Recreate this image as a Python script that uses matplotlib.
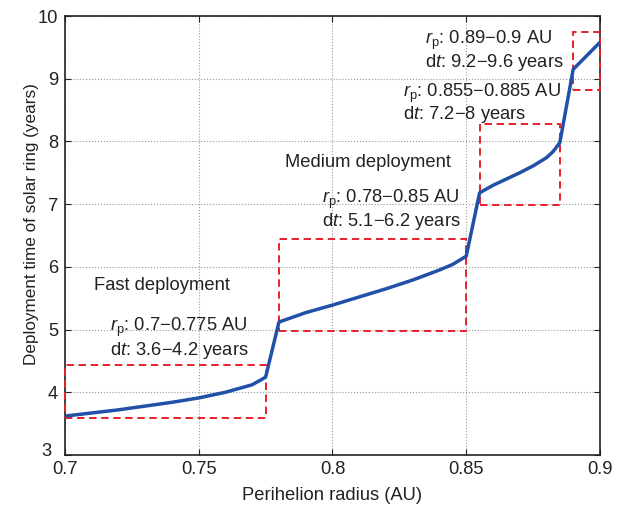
import matplotlib
matplotlib.use("Agg")
import matplotlib.pyplot as plt
from matplotlib.patches import Rectangle

plt.rcParams['font.family'] = ['Liberation Sans', 'DejaVu Sans']
plt.rcParams['mathtext.fontset'] = 'custom'
plt.rcParams['mathtext.rm'] = 'Liberation Sans'
plt.rcParams['mathtext.it'] = 'Liberation Sans:italic'

# deployment time vs perihelion radius
r_p = [0.70, 0.71, 0.72, 0.73, 0.74, 0.75, 0.76, 0.77, 0.775,
       0.78, 0.79, 0.80, 0.81, 0.82, 0.83, 0.84, 0.845, 0.85,
       0.855, 0.86, 0.865, 0.87, 0.875, 0.88, 0.8825, 0.885, 0.89, 0.90]
t_deploy = [3.62, 3.67, 3.72, 3.78, 3.84, 3.91, 4.00, 4.12, 4.24,
            5.12, 5.27, 5.39, 5.52, 5.65, 5.79, 5.95, 6.04, 6.17,
            7.18, 7.30, 7.40, 7.50, 7.61, 7.74, 7.84, 7.98, 9.15, 9.58]

# regions (x0, x1, y0, y1)
boxes = [(0.700, 0.775, 3.59, 4.44),
         (0.780, 0.850, 4.97, 6.44),
         (0.855, 0.885, 6.98, 8.28),
         (0.890, 0.900, 8.82, 9.74)]

labels = [(0.711, 5.70, "Fast deployment"),
          (0.7822, 7.66, "Medium deployment")]
box_notes = [(0.7168, 5.04, 4.67, r"$r_{\rm p}$: 0.7−0.775 AU", r"d$t$: 3.6−4.2 years"),
             (0.796, 7.08, 6.73, r"$r_{\rm p}$: 0.78−0.85 AU", r"d$t$: 5.1−6.2 years"),
             (0.8264, 8.77, 8.43, r"$r_{\rm p}$: 0.855−0.885 AU", r"d$t$: 7.2−8 years"),
             (0.8346, 9.61, 9.26, r"$r_{\rm p}$: 0.89−0.9 AU", r"d$t$: 9.2−9.6 years")]

TXT = '#222222'
FS = 13.2

fig = plt.figure(figsize=(6.23, 5.07), dpi=100)
ax = fig.add_axes([0.1043, 0.1026, 0.8587, 0.8658])

for x0, x1, y0, y1 in boxes:
    ax.add_patch(Rectangle((x0, y0), x1 - x0, y1 - y0, fill=False,
                           ec='#e8202a', lw=1.4, ls=(0, (3.8, 2.4)), zorder=3,
                           clip_on=False))

ax.plot(r_p, t_deploy, color='#2150a8', lw=2.5, zorder=4)

for x, y, s in labels:
    ax.text(x, y, s, fontsize=FS, va='center', ha='left', color=TXT)
for x, y1, y2, s1, s2 in box_notes:
    ax.text(x, y1, s1, fontsize=FS, va='center', ha='left', color=TXT)
    ax.text(x, y2, s2, fontsize=FS, va='center', ha='left', color=TXT)

ax.set_xlim(0.7, 0.9)
ax.set_ylim(3, 10)
ax.set_xticks([0.7, 0.75, 0.8, 0.85, 0.9])
ax.set_xticklabels(['0.7', '0.75', '0.8', '0.85', '0.9'])
yt = list(range(3, 11))
ax.set_yticks(yt)
# the lowest y label sits tucked into the corner, drawn separately
ax.set_yticklabels([''] + [str(v) for v in yt[1:]])
ax.text(-0.0355, 0.007, '3', transform=ax.transAxes, fontsize=FS,
        ha='center', va='center', color=TXT)

ax.grid(True, ls=':', color='#999999', lw=0.8)
ax.tick_params(direction='in', top=True, right=True, length=4, labelsize=FS,
               color=TXT, labelcolor=TXT)
ax.tick_params(axis='x', pad=4)
ax.tick_params(axis='y', pad=5)
for sp in ax.spines.values():
    sp.set_linewidth(1.2)
    sp.set_color(TXT)

ax.set_xlabel('Perihelion radius (AU)', fontsize=FS, color=TXT)
ax.xaxis.set_label_coords(0.5, -0.073)
ax.set_ylabel('Deployment time of solar ring (years)', fontsize=12.3, color=TXT)
ax.yaxis.set_label_coords(-0.0486, 0.527)

fig.savefig('out.png', dpi=100)
